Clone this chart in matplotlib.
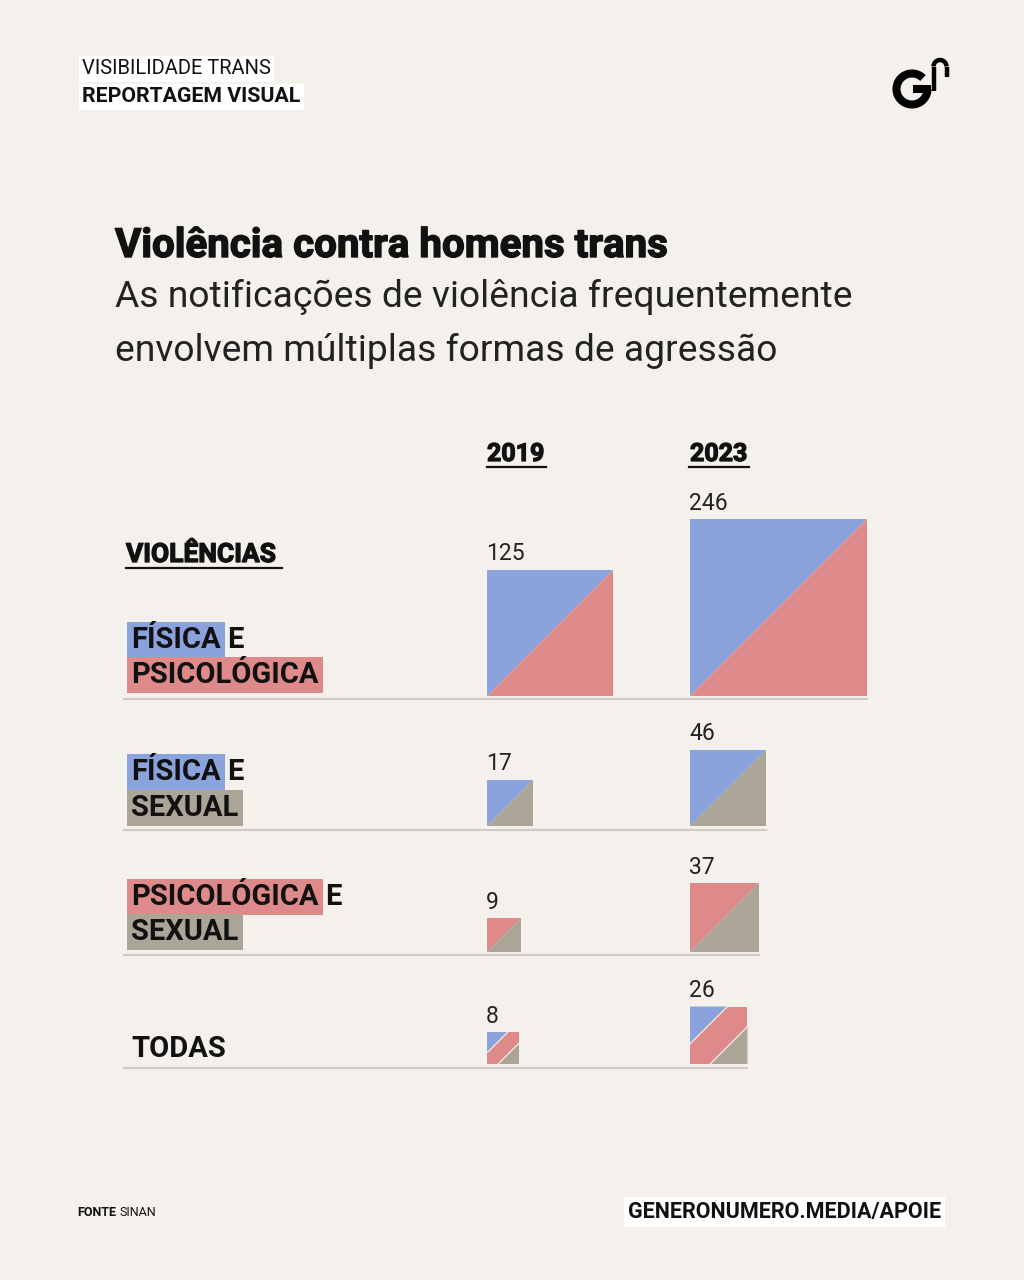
import matplotlib
matplotlib.use("Agg")
import matplotlib.pyplot as plt
from matplotlib.patches import Polygon, Rectangle, Arc
import matplotlib.patheffects as pe
import numpy as np

# ---------------- data ----------------
years = ["2019", "2023"]
categories = ["FÍSICA E PSICOLÓGICA", "FÍSICA E SEXUAL", "PSICOLÓGICA E SEXUAL", "TODAS"]
values_2019 = [125, 17, 9, 8]
values_2023 = [246, 46, 37, 26]
# colours of the two (or three) halves of each square
pairs = [("fis", "psi"), ("fis", "sex"), ("psi", "sex"), ("fis", "psi", "sex")]

BG = "#f4f1ec"
COL = {"fis": "#8ba3dd", "psi": "#df8a8a", "sex": "#aba598"}
FONT = ["Roboto", "DejaVu Sans"]
plt.rcParams["font.family"] = FONT


def heavy(lw):
    return [pe.withStroke(linewidth=lw, foreground="#111")]


fig = plt.figure(figsize=(10.24, 12.8), dpi=100, facecolor=BG)
ax = fig.add_axes([0, 0, 1, 1])
ax.set_xlim(0, 1024)
ax.set_ylim(1280, 0)
ax.axis("off")
ax.set_facecolor(BG)

# ---------------- header ----------------
ax.text(82, 69, "VISIBILIDADE TRANS", fontsize=14.5, fontweight="normal", va="center", ha="left",
        color="#111", bbox=dict(boxstyle="square,pad=0.15", fc="white", ec="none"))
ax.text(82, 97, "REPORTAGEM VISUAL", fontsize=15.3, fontweight="bold", va="center", ha="left",
        color="#111", bbox=dict(boxstyle="square,pad=0.15", fc="white", ec="none"))

# logo
ax.add_patch(Arc((912, 89), 31, 31, theta1=0, theta2=315, lw=5.8, color="black", capstyle="butt"))
ax.plot([913, 931], [89, 89], color="black", lw=5.8, solid_capstyle="butt")
ax.plot([933.5, 933.5], [91, 66.5], color="black", lw=3.2, solid_capstyle="butt")
ax.add_patch(Arc((940, 66.5), 13, 13, theta1=180, theta2=360, lw=3.2, color="black"))
ax.plot([946.5, 946.5], [66.5, 77], color="black", lw=3.2, solid_capstyle="butt")

# ---------------- titles ----------------
ax.text(115, 246, "Violência contra homens trans", fontsize=29, fontweight="bold",
        va="center", ha="left", color="#111", path_effects=heavy(1.0))
ax.text(115, 297, "As notificações de violência frequentemente", fontsize=26.8, fontweight="normal",
        va="center", ha="left", color="#222")
ax.text(115, 351, "envolvem múltiplas formas de agressão", fontsize=26.8, fontweight="normal",
        va="center", ha="left", color="#222")

# ---------------- column headers ----------------
col_x = [487, 690]
for x, y in zip(col_x, years):
    ax.text(x, 454, y, fontsize=18, fontweight="bold", va="center", ha="left",
            color="#111", path_effects=heavy(0.9))
ax.plot([487, 546], [467, 467], color="#111", lw=1.6)
ax.plot([689, 749], [467, 467], color="#111", lw=1.6)

ax.text(126, 555, "VIOLÊNCIAS", fontsize=19, fontweight="bold", va="center",
        ha="left", color="#111", path_effects=heavy(0.9))
ax.plot([126, 282], [568, 568], color="#111", lw=1.6)

# ---------------- squares ----------------
K = 126 / np.sqrt(125)          # pixel side per sqrt(value)
row_base = [696, 826, 952, 1064]
row_line = [699, 830, 955, 1068]


def draw_square(x0, yb, v, keys):
    s = K * np.sqrt(v)
    top = yb - s
    if len(keys) == 2:
        a, b = keys
        ax.add_patch(Polygon([(x0, yb), (x0, top), (x0 + s, top)], closed=True,
                             fc=COL[a], ec="none"))
        ax.add_patch(Polygon([(x0, yb), (x0 + s, yb), (x0 + s, top)], closed=True,
                             fc=COL[b], ec="none"))
    else:
        a, b, c = keys
        f = 0.65
        ax.add_patch(Rectangle((x0, top), s, s, fc=COL[b], ec="none"))
        ax.add_patch(Polygon([(x0, top), (x0 + f * s, top), (x0, top + f * s)], closed=True,
                             fc=COL[a], ec="none"))
        ax.add_patch(Polygon([(x0 + s, yb), (x0 + s - f * s, yb), (x0 + s, yb - f * s)],
                             closed=True, fc=COL[c], ec="none"))
        ax.plot([x0 + f * s, x0], [top, top + f * s], color="#f6e4df", lw=1.0)
        ax.plot([x0 + s - f * s, x0 + s], [yb, yb - f * s], color="#f6e4df", lw=1.0)
    ax.text(x0 - 1, top - 16, f"{v}", fontsize=16.5, fontweight="normal", ha="left",
            va="center", color="#222")
    return s


for i in range(len(categories)):
    draw_square(col_x[0], row_base[i], values_2019[i], pairs[i])
    s2 = draw_square(col_x[1], row_base[i], values_2023[i], pairs[i])
    ax.plot([124, col_x[1] + s2], [row_line[i], row_line[i]], color="#cfcbc4", lw=1.5)

# ---------------- row labels ----------------
LBL = dict(fontsize=21, fontweight="bold", va="center", ha="left", color="#111")


def boxed(x, y, s, key):
    return ax.text(x, y, s, bbox=dict(boxstyle="square,pad=0.15", fc=COL[key], ec="none"), **LBL)


def add_e(t):
    ax.annotate("E", xy=(1, 0.5), xycoords=t, xytext=(5, 0), textcoords="offset points",
                **LBL)


label_rows = [
    [(640, "FÍSICA", "fis", True), (675, "PSICOLÓGICA", "psi", False)],
    [(772, "FÍSICA", "fis", True), (808, "SEXUAL", "sex", False)],
    [(897, "PSICOLÓGICA", "psi", True), (932, "SEXUAL", "sex", False)],
]
for row in label_rows:
    for y, s, key, e in row:
        t = boxed(131, y, s, key)
        if e:
            add_e(t)
ax.text(131, 1049, "TODAS", **LBL)

# ---------------- footer ----------------
tf = ax.text(77, 1212, "FONTE", fontsize=9, fontweight="bold", va="center", ha="left",
             color="#111")
ax.annotate("SINAN", xy=(1, 0.5), xycoords=tf, xytext=(2.5, 0), textcoords="offset points",
            fontsize=9, fontweight="normal", va="center", ha="left", color="#111")
ax.text(941, 1212, "GENERONUMERO.MEDIA/APOIE", fontsize=15.5, fontweight="bold", va="center",
        ha="right", color="#111", bbox=dict(boxstyle="square,pad=0.17", fc="white", ec="none"))

fig.savefig("out.png", dpi=100, facecolor=BG)
